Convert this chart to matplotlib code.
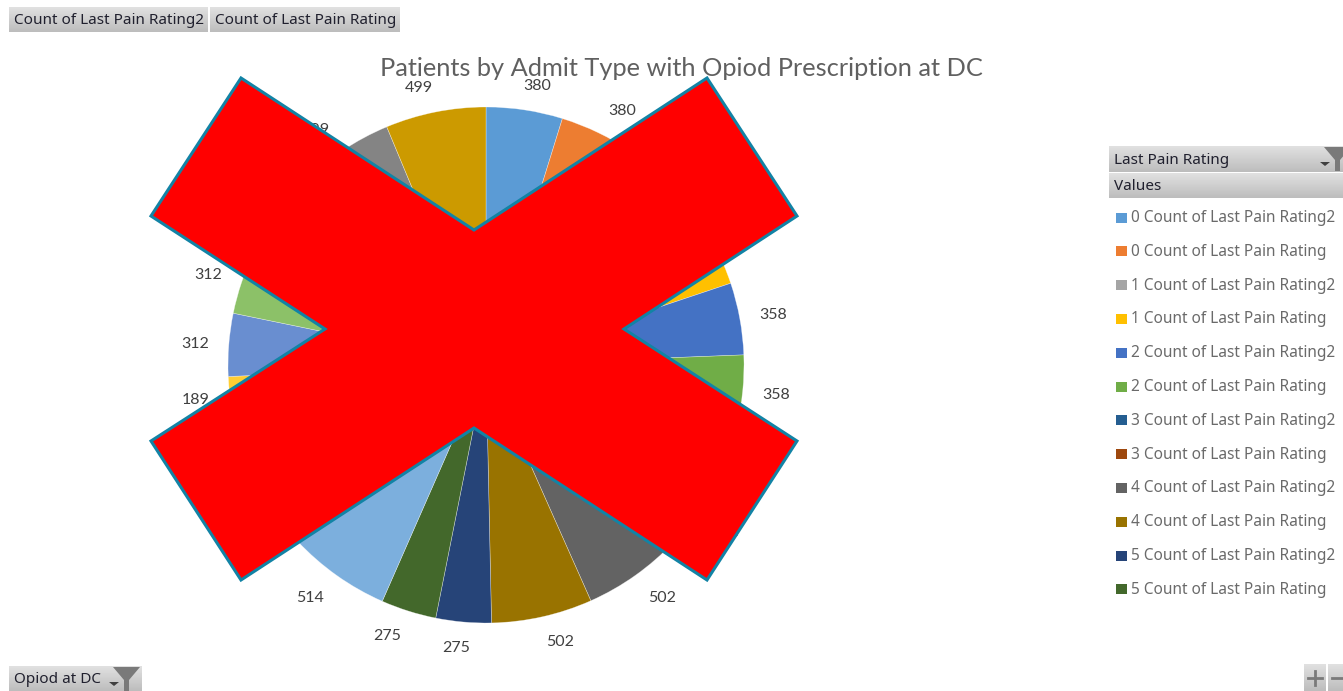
import numpy as np
from matplotlib import pyplot as plt
from matplotlib.patches import Polygon, Rectangle

W, H = 1343, 691

title = "Patients by Admit Type with Opiod Prescription at DC"

# one value for each rating and series, clockwise from 12 o'clock
pain_counts = [380, 380, 409, 409, 358, 358, 323, 323, 502, 502, 275, 275,
               514, 514, 189, 189, 312, 312, 210, 210, 499, 499]
slice_colors = ["#5B9BD5", "#ED7D31", "#A5A5A5", "#FFC000", "#4472C4", "#70AD47",
                "#255E91", "#9E480E", "#636363", "#997300", "#264478", "#43682B",
                "#7CAFDD", "#F1975A", "#B7B7B7", "#FFCD33", "#698ED0", "#8CC168",
                "#327DC2", "#D2600F", "#848484", "#CC9A00"]

ratings = [0, 1, 2, 3, 4, 5]
series_names = ["Count of Last Pain Rating2", "Count of Last Pain Rating"]
legend_labels = [f"{r} {s}" for r in ratings for s in series_names]

# pie centre and radius in pixels
cx, cy, rad = 486, 365, 258

fig = plt.figure(figsize=(W / 100, H / 100), dpi=100, facecolor="white")
ax = fig.add_axes([(cx - rad) / W, 1 - (cy + rad) / H, 2 * rad / W, 2 * rad / H], zorder=1)
wedges, _ = ax.pie(pain_counts, colors=slice_colors, startangle=90, counterclock=False,
                   radius=1, wedgeprops=dict(edgecolor="#ffffff80", linewidth=0.4))
ax.set_xlim(-1, 1)
ax.set_ylim(-1, 1)

# labels sit just outside the rim, pushed out by the half size of their box
for w, val in zip(wedges, pain_counts):
    a = np.radians((w.theta1 + w.theta2) / 2)
    c, s = np.cos(a), np.sin(a)
    lx = (rad + 18) * c + 16 * np.clip(4 * c, -1, 1)
    ly = (rad + 18) * s + 7 * np.clip(1.2 * s, -1, 1) - 1
    ax.text(lx / rad, ly / rad, str(val), ha="center", va="center",
            fontsize=11.5, color="#404040", family="Lato")

# everything else is laid out in pixels, y going down
top = fig.add_axes([0, 0, 1, 1], zorder=2)
top.patch.set_alpha(0)
top.axis("off")
grad = np.linspace(0.88, 0.74, 32).reshape(-1, 1)


def button(x0, x1, y0, y1, text=None):
    top.imshow(grad, extent=(x0, x1, y1, y0), aspect="auto", cmap="gray",
               vmin=0, vmax=1, zorder=1)
    if text:
        top.text(x0 + 5, (y0 + y1) / 2 + 1, text, ha="left", va="center",
                 fontsize=11, color="#20202e", family="Noto Sans", zorder=3)


def funnel(x, y):
    # filter icon with the small dropdown arrow beside it
    top.add_patch(Polygon([(x, y), (x + 27, y), (x + 16, y + 13), (x + 16, y + 24),
                           (x + 11, y + 24), (x + 11, y + 13)], fc="#7a7a7a", ec="none", zorder=4))
    top.add_patch(Polygon([(x - 4, y + 15), (x + 6, y + 15), (x + 1, y + 19)],
                          fc="#404040", ec="none", zorder=4))


button(9, 208, 7, 32, series_names[0])
button(210, 400, 7, 32, series_names[1])
button(9, 142, 666, 691, "Opiod at DC")
funnel(113, 667)
button(1109, W, 146, 172, "Last Pain Rating")
button(1109, W, 173, 198, "Values")
funnel(1324, 147)
button(1304, 1326, 664, H)
button(1328, W, 664, H)
# zoom buttons, the minus runs off the right edge
top.plot([1308, 1322], [678, 678], color="#7a7a7a", lw=2, zorder=4)
top.plot([1315, 1315], [671, 685], color="#7a7a7a", lw=2, zorder=4)
top.plot([1332, W], [678, 678], color="#7a7a7a", lw=2, zorder=4)

top.text(681, 68, title, ha="center", va="center", fontsize=18.25, color="#606060",
         family="Lato", zorder=3)

for i, (lab, col) in enumerate(zip(legend_labels, slice_colors)):
    y = 217.5 + i * 33.8
    top.add_patch(Rectangle((1116, y - 5), 11, 10, fc=col, ec="none", zorder=3))
    top.text(1131, y + 0.5, lab, ha="left", va="center", fontsize=11.1, color="#6a6a6a",
             family="Noto Sans", zorder=3)

# red cross drawn over the chart
cross = [(241, 78), (474, 230), (707, 78), (797, 216), (624, 329), (797, 441),
         (707, 580), (474, 428), (241, 580), (151, 441), (325, 329), (151, 216)]
top.add_patch(Polygon(cross, closed=True, fc="#FF0000", ec="#1283A5", lw=2.2,
                      joinstyle="miter", zorder=6))

top.set_xlim(0, W)
top.set_ylim(H, 0)

fig.savefig("out.png", dpi=100)
